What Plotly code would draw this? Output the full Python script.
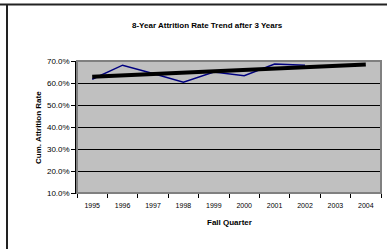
import plotly.graph_objects as go

years = ["1995", "1996", "1997", "1998", "1999", "2000", "2001", "2002", "2003", "2004"]
attrition = [61.7, 68.1, 64.3, 60.4, 65.0, 63.3, 68.6, 68.1]
trend_years = ["1995", "2004"]
trend_values = [62.8, 68.4]
y_ticks = [10, 20, 30, 40, 50, 60, 70]
y_labels = ["10.0%", "20.0%", "30.0%", "40.0%", "50.0%", "60.0%", "70.0%"]

W, H = 387, 249
L, R, T, B = 77, 381, 61, 193
FONT = "Liberation Sans, Arial, sans-serif"

fig = go.Figure()
fig.add_trace(go.Scatter(x=years[:len(attrition)], y=attrition, mode="lines",
                         line=dict(color="#000080", width=1.5), hoverinfo="skip"))
fig.add_trace(go.Scatter(x=trend_years, y=trend_values, mode="lines",
                         line=dict(color="#000000", width=4), hoverinfo="skip"))

def px_x(p):
    return (p - L) / (R - L)

def px_y(p):
    return (B - p) / (B - T)

shapes = [
    dict(type="rect", xref="paper", yref="paper", x0=0, x1=1, y0=0, y1=1,
         line=dict(color="#808080", width=2), layer="above"),
    dict(type="line", xref="paper", yref="paper", x0=px_x(0), x1=px_x(W),
         y0=px_y(4.5), y1=px_y(4.5), line=dict(color="#222222", width=2)),
    dict(type="line", xref="paper", yref="paper", x0=px_x(7), x1=px_x(7),
         y0=px_y(4), y1=px_y(H), line=dict(color="#222222", width=2)),
]

annotations = [
    dict(text="<b>8-Year Attrition Rate Trend after 3 Years</b>", xref="paper", yref="paper",
         x=px_x(207), y=px_y(25), xanchor="center", yanchor="middle", showarrow=False,
         font=dict(size=8, family=FONT, color="#000")),
    dict(text="<b>Fall Quarter</b>", xref="paper", yref="paper",
         x=px_x(229), y=px_y(222), xanchor="center", yanchor="middle", showarrow=False,
         font=dict(size=8, family=FONT, color="#000")),
    dict(text="<b>Cum. Attrition Rate</b>", xref="paper", yref="paper", textangle=-90,
         x=px_x(38.5), y=px_y(127.5), xanchor="center", yanchor="middle", showarrow=False,
         font=dict(size=8, family=FONT, color="#000")),
]

fig.update_layout(
    width=W, height=H,
    margin=dict(l=L, r=W - R, t=T, b=H - B, pad=0),
    paper_bgcolor="white", plot_bgcolor="#C0C0C0",
    showlegend=False,
    shapes=shapes, annotations=annotations,
    font=dict(family=FONT, color="#000"),
)
fig.update_xaxes(type="category", categoryorder="array", categoryarray=years,
                 range=[-0.5, len(years) - 0.5], tickson="boundaries",
                 ticks="outside", ticklen=4, tickcolor="#000", tickwidth=1,
                 ticklabelstandoff=6,
                 showline=True, linecolor="#000", linewidth=1, showgrid=False,
                 tickfont=dict(size=7, family=FONT, color="#000"), zeroline=False,
                 automargin=False)
fig.update_yaxes(range=[10, 70], tickvals=y_ticks, ticktext=y_labels,
                 ticks="outside", ticklen=4, tickcolor="#000", tickwidth=1,
                 showline=True, linecolor="#000", linewidth=1.5,
                 showgrid=True, gridcolor="#000", gridwidth=1,
                 tickfont=dict(size=8, family=FONT, color="#000"), zeroline=False,
                 automargin=False)

fig.write_html("out.html", config={"displayModeBar": False},
               post_script="document.body.style.margin='0px';document.body.style.overflow='hidden';")
